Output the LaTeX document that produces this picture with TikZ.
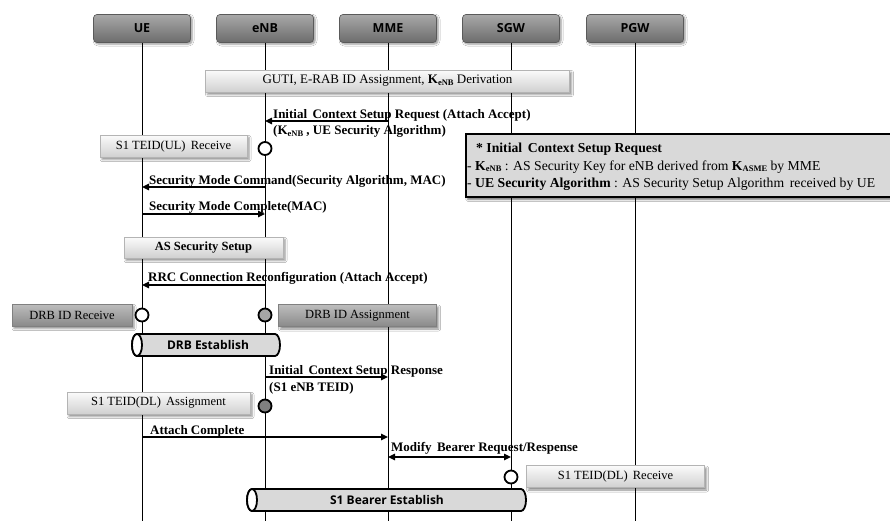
\documentclass[tikz,border=0pt]{standalone}
\usepackage{fontspec}
\setmainfont{Liberation Serif}
\setsansfont{Open Sans}
\usetikzlibrary{arrows.meta,shadows,shadows.blur}

\definecolor{hdrtop}{HTML}{A8A8A8}
\definecolor{hdrbot}{HTML}{6C6C6C}
\definecolor{hdrline}{HTML}{5A5A5A}
\definecolor{boxtop}{HTML}{FBFBFB}
\definecolor{boxbot}{HTML}{D0D0D0}
\definecolor{boxline}{HTML}{B4B4B4}
\definecolor{midtop}{HTML}{BDBDBD}
\definecolor{midbot}{HTML}{8A8A8A}
\definecolor{notefill}{HTML}{D9D9D9}
\definecolor{barfill}{HTML}{D9D9D9}
\definecolor{dotmid}{HTML}{A6A6A6}
\definecolor{dotdark}{HTML}{7F7F7F}

% bold key symbol with a small bold subscript
\newcommand\keysub[1]{\textbf{K}\raisebox{-0.3ex}{\fontsize{8.5}{8.5}\selectfont\textbf{#1}}}

% horizontal barrel: x-left, x-right, y-top, y-bottom
\newcommand\drawbarrel[4]{%
  \pgfmathsetmacro\barrelhalf{(#4-#3)/2}%
  \filldraw[barrel] (#1+5,#3) -- (#2-5,#3)
    arc[start angle=90,end angle=-90,x radius=5pt,y radius=\barrelhalf pt]
    -- (#1+5,#4)
    arc[start angle=270,end angle=90,x radius=5pt,y radius=\barrelhalf pt] -- cycle;
  \filldraw[barrel, fill=white] (#1+5,{(#3+#4)/2}) ellipse[x radius=5pt,y radius=\barrelhalf pt];
}

\begin{document}
\begin{tikzpicture}[x=1pt,y=-1pt,
  font=\fontsize{12.5}{14}\selectfont,
  entity/.style={rounded corners=3.5pt, draw=hdrline, line width=0.6pt,
    top color=hdrtop, bottom color=hdrbot, minimum width=97pt, minimum height=28pt,
    font=\sffamily\bfseries\fontsize{12.5}{14}\selectfont,
    blur shadow={shadow xshift=1.5pt, shadow yshift=-1.5pt, shadow blur radius=2pt, shadow opacity=45}},
  life/.style={line width=0.9pt},
  task/.style={draw=boxline, line width=0.5pt, top color=boxtop, bottom color=boxbot,
    inner sep=0pt, minimum height=22pt,
    blur shadow={shadow xshift=2pt, shadow yshift=-2.5pt, shadow blur radius=2pt, shadow opacity=45}},
  midtask/.style={task, draw=gray, top color=midtop, bottom color=midbot},
  msg/.style={line width=1.3pt, -{Triangle[length=7pt,width=6.5pt]}},
  twoway/.style={line width=1.3pt, {Triangle[length=7pt,width=6.5pt]}-{Triangle[length=7pt,width=6.5pt]}},
  msglabel/.style={font=\bfseries\fontsize{13}{15}\selectfont, anchor=base west, inner sep=0pt},
  state/.style={circle, draw, line width=1.8pt, minimum size=13pt, inner sep=0pt, fill=white},
  barrel/.style={draw, line width=1.8pt, fill=barfill},
  barreltext/.style={font=\sffamily\bfseries\fontsize{12}{14}\selectfont},
  note/.style={draw, line width=1.6pt, fill=notefill, anchor=north west, inner sep=0pt,
    blur shadow={shadow xshift=2pt, shadow yshift=-2.5pt, shadow blur radius=2pt, shadow opacity=60}},
  notetext/.style={anchor=base west, inner sep=0pt, font=\fontsize{13.7}{15}\selectfont}
]
\useasboundingbox (0,0) rectangle (890,520);
\fill[white] (0,0) rectangle (890,520);

% participants
\node[entity] (ue)  at (142,28.5) {UE};
\node[entity] (enb) at (265,28.5) {eNB};
\node[entity] (mme) at (388,28.5) {MME};
\node[entity] (sgw) at (511,28.5) {SGW};
\node[entity] (pgw) at (635,28.5) {PGW};

% row positions
\coordinate (floor) at (0,522);
\coordinate (r0) at (0,148.5);
\coordinate (r1) at (0,121);
\coordinate (r2) at (0,187);
\coordinate (r3) at (0,214);
\coordinate (r4) at (0,285);
\coordinate (r5) at (0,315);
\coordinate (r6) at (0,377);
\coordinate (r7) at (0,406);
\coordinate (r8) at (0,437);
\coordinate (r9) at (0,457);
\coordinate (r10) at (0,477);

% lifelines
\foreach \e in {ue,enb,mme,sgw,pgw}
  \draw[life] (\e.south) -- (\e |- floor);

% key derivation at the MME
\node[task, minimum width=364pt, font=\fontsize{13}{14}\selectfont] (guti) at (387.5,81)
  {GUTI, E-RAB ID Assignment, \keysub{eNB} Derivation};

% Initial Context Setup Request
\draw[msg] (mme |- r1) -- (enb |- r1);
\node[msglabel] (icsreq) at (273,118.5) {Initial\, Context Setup Request (Attach Accept)};
\node[msglabel] (icsreq2) at (273,134.5) {(\keysub{eNB} , UE Security Algorithm)};

\node[task, minimum width=147pt] (ulrx) at (173.5,146) {S1 TEID(UL)\, Receive};
\node[state] (c1) at (enb |- r0) {};

% note
\node[note, minimum width=430pt, minimum height=63pt] (notebox) at (465,133) {};
\node[notetext] (n1) at (476,152.5) {\textbf{* Initial\, Context Setup Request}};
\node[notetext] (n2) at (467,170) {- \keysub{eNB} : AS Security Key for eNB derived from \keysub{ASME} by MME};
\node[notetext] (n3) at (467,187.5) {- \textbf{UE Security Algorithm} : AS Security Setup Algorithm\, received by UE};

% security mode
\draw[msg] (enb |- r2) -- (ue |- r2);
\node[msglabel] (smc) at (149,184) {Security Mode Command(Security Algorithm, MAC)};
\draw[msg] (ue |- r3) -- (enb |- r3);
\node[msglabel] (smcc) at (149,210.5) {Security Mode Complete(MAC)};

\node[task, minimum width=159pt, minimum height=21pt, font=\bfseries\fontsize{12.5}{14}\selectfont] (assec) at (203.5,247.5) {AS Security Setup};

% RRC reconfiguration
\draw[msg] (enb |- r4) -- (ue |- r4);
\node[msglabel] (rrc) at (148,281) {RRC Connection Reconfiguration (Attach Accept)};

\node[midtask, minimum width=120pt] (drbrx) at (72,315) {DRB ID Receive};
\node[state] (c2) at (ue |- r5) {};
\node[state, fill=dotmid] (c3) at (enb |- r5) {};
\node[midtask, minimum width=158pt] (drbas) at (357.5,315.5) {DRB ID Assignment};

\drawbarrel{132}{280}{334}{356}
\node[barreltext] (drb) at (208,345) {DRB Establish};

% Initial Context Setup Response
\draw[msg] (enb |- r6) -- (mme |- r6);
\node[msglabel] (icsrsp) at (269,374) {Initial\, Context Setup Response};
\node[msglabel] (icsrsp2) at (269,391) {(S1 eNB TEID)};

\node[task, minimum width=183pt] (dlas) at (158.5,403) {S1 TEID(DL)\, Assignment};
\node[state, fill=dotdark] (c4) at (enb |- r7) {};

% attach complete
\draw[msg] (ue |- r8) -- (mme |- r8);
\node[msglabel] (attc) at (150,434) {Attach Complete};

% modify bearer
\draw[twoway] (mme |- r9) -- (sgw |- r9);
\node[msglabel] (modb) at (391,451.5) {Modify\, Bearer Request/Respense};

\node[state] (c5) at (sgw |- r10) {};
\node[task, minimum width=178pt] (dlrx) at (615.5,476.5) {S1 TEID(DL)\, Receive};

\drawbarrel{247}{526}{489}{511}
\node[barreltext] (s1b) at (387,500) {S1 Bearer Establish};

\end{tikzpicture}
\end{document}
